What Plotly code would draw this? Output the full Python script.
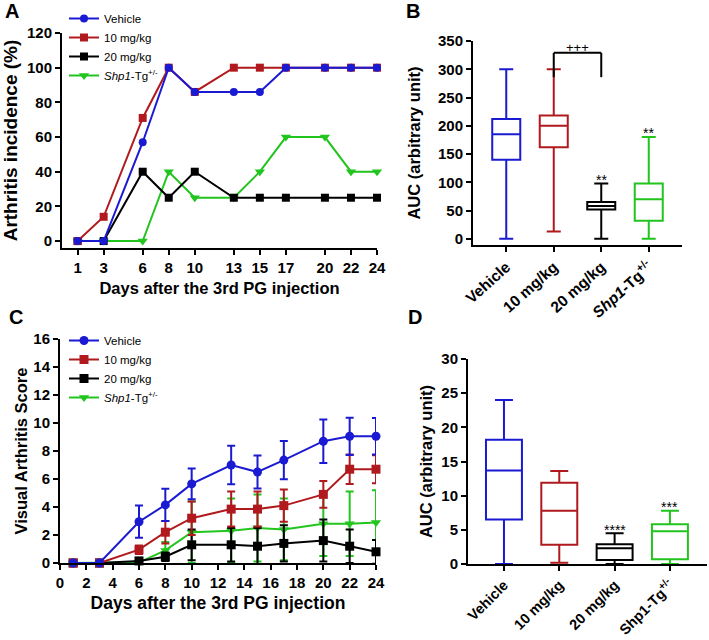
import plotly.graph_objects as go

# ── Colours ──────────────────────────
C_BLUE = "#1a1ad2"
C_RED = "#b01a1e"
C_BLACK = "#000000"
C_GREEN = "#22c41e"
FONT = "Arial, Liberation Sans, sans-serif"

# ── Data ──────────────────────────
GROUPS = ["Vehicle", "10 mg/kg", "20 mg/kg", "<i>Shp1</i>-Tg<sup>+/-</sup>"]
COLOURS = [C_BLUE, C_RED, C_BLACK, C_GREEN]
SYMBOLS = ["circle", "square", "square", "triangle-down"]

# panel A: arthritis incidence (%)
days_a = [1, 3, 6, 8, 10, 13, 15, 17, 20, 22, 24]
inc_vehicle = [0, 0, 57, 100, 86, 86, 86, 100, 100, 100, 100]
inc_10 = [0, 14, 71, 100, 86, 100, 100, 100, 100, 100, 100]
inc_20 = [0, 0, 40, 25, 40, 25, 25, 25, 25, 25, 25]
inc_shp1 = [0, 0, 0, 40, 25, 25, 40, 60, 60, 40, 40]

# panel C: visual arthritis score, mean and SEM
days_c = [1, 3, 6, 8, 10, 13, 15, 17, 20, 22, 24]
score_vehicle = [0, 0, 2.95, 4.15, 5.65, 7.0, 6.5, 7.35, 8.7, 9.05, 9.05]
sem_vehicle = [0, 0, 1.15, 1.15, 1.1, 1.37, 1.17, 1.37, 1.55, 1.33, 1.3]
score_10 = [0, 0, 0.95, 2.2, 3.2, 3.85, 3.85, 4.1, 4.9, 6.7, 6.7]
sem_10 = [0, 0, 0.3, 0.8, 1.2, 1.25, 1.25, 1.15, 0.95, 1.05, 1.0]
score_20 = [0, 0, 0.15, 0.45, 1.3, 1.3, 1.2, 1.4, 1.6, 1.2, 0.8]
sem_20 = [0, 0, 0.1, 0.3, 1.1, 1.2, 1.3, 1.3, 1.5, 1.2, 0.85]
score_shp1 = [0, 0, 0.05, 0.9, 2.2, 2.3, 2.5, 2.4, 2.8, 2.8, 2.9]
sem_shp1 = [0, 0, 0.05, 0.6, 2.2, 2.3, 2.4, 2.2, 2.3, 2.3, 2.3]

# box categories
box_cats = ["Vehicle", "10 mg/kg", "20 mg/kg", "Shp1-Tg+/-"]
box_labels_b = ["Vehicle", "10 mg/kg", "20 mg/kg", "<i>Shp1</i>-Tg<sup>+/-</sup>"]
box_labels_d = ["Vehicle", "10 mg/kg", "20 mg/kg", "Shp1-Tg<sup>+/-</sup>"]

# panel B: AUC of incidence
b_min = [0, 13, 0, 0]
b_q1 = [140, 162, 52, 32]
b_med = [185, 200, 58, 70]
b_q3 = [212, 218, 65, 98]
b_max = [300, 300, 98, 180]
b_stars = ["", "", "**", "**"]
b_star_y = [0, 0, 104, 187]
b_bracket = ("10 mg/kg", "20 mg/kg", 286, 329, "+++", 339)

# panel D: AUC of score
d_min = [0, 0.2, 0, 0]
d_q1 = [6.5, 2.8, 0.6, 0.7]
d_med = [13.7, 7.8, 2.3, 4.8]
d_q3 = [18.2, 11.9, 2.9, 5.8]
d_max = [24, 13.6, 4.5, 7.8]
d_stars = ["", "", "****", "***"]
d_star_y = [0, 0, 5.0, 8.4]

W, H = 709, 640


def px_x(a, b):
    return [a / W, b / W]


def px_y(top, bottom):
    return [1 - bottom / H, 1 - top / H]


fig = go.Figure()

# ── Panel A ──
series_a = [inc_vehicle, inc_10, inc_20, inc_shp1]
for i in [3, 2, 1, 0]:
    fig.add_trace(go.Scatter(
        x=days_a, y=series_a[i], name=GROUPS[i], mode="lines+markers",
        line=dict(color=COLOURS[i], width=2),
        marker=dict(symbol=SYMBOLS[i], size=9 if i == 3 else 8, color=COLOURS[i]),
        xaxis="x", yaxis="y", legend="legend", cliponaxis=False,
    ))

# ── Panel C ──
series_c = [(score_vehicle, sem_vehicle), (score_10, sem_10),
            (score_20, sem_20), (score_shp1, sem_shp1)]
for i in [3, 2, 1, 0]:
    m, e = series_c[i]
    fig.add_trace(go.Scatter(
        x=days_c, y=m, name=GROUPS[i], mode="lines+markers",
        line=dict(color=COLOURS[i], width=2),
        marker=dict(symbol=SYMBOLS[i], size=9, color=COLOURS[i]),
        error_y=dict(type="data", array=e, color=COLOURS[i], thickness=2, width=4),
        xaxis="x3", yaxis="y3", legend="legend2", cliponaxis=False,
    ))

# ── Panels B and D (box plots from summary stats) ──
for ax, (lo, q1, med, q3, hi), width in [
    ("2", (b_min, b_q1, b_med, b_q3, b_max), 0.59),
    ("4", (d_min, d_q1, d_med, d_q3, d_max), 0.65),
]:
    for i, cat in enumerate(box_cats):
        fig.add_trace(go.Box(
            x=[cat], q1=[q1[i]], median=[med[i]], q3=[q3[i]],
            lowerfence=[lo[i]], upperfence=[hi[i]],
            line=dict(color=COLOURS[i], width=2),
            fillcolor="rgba(0,0,0,0)", whiskerwidth=0.5, width=width,
            boxpoints=False, showlegend=False,
            xaxis="x" + ax, yaxis="y" + ax,
        ))

axis_common = dict(
    showline=True, linecolor="black", linewidth=2, mirror=False,
    ticks="outside", ticklen=5, tickwidth=2, tickcolor="black",
    showgrid=False, zeroline=False, automargin=False,
    tickfont=dict(family=FONT, size=15, color="black", weight="bold"),
)


def title(text, size):
    return dict(text=f"<b>{text}</b>", font=dict(family=FONT, size=size, color="black"))


annotations = []
for txt, x, y in [("A", 12, 11), ("B", 413, 11), ("C", 16, 317), ("D", 415, 317)]:
    annotations.append(dict(
        text=f"<b>{txt}</b>", x=x / W, y=1 - y / H, xref="paper", yref="paper",
        xanchor="center", yanchor="middle",
        showarrow=False, font=dict(family=FONT, size=20, color="black"),
    ))

for cat, s, y in zip(box_cats, b_stars, b_star_y):
    if s:
        annotations.append(dict(text=s, x=cat, y=y, xref="x2", yref="y2", showarrow=False,
                                font=dict(family=FONT, size=14, color="black")))
for cat, s, y in zip(box_cats, d_stars, d_star_y):
    if s:
        annotations.append(dict(text=s, x=cat, y=y, xref="x4", yref="y4", showarrow=False,
                                font=dict(family=FONT, size=14, color="black")))

c0, c1, y0, y1, label, ly = b_bracket
annotations.append(dict(text=label, x=1.5, y=ly, xref="x2", yref="y2", showarrow=False,
                        font=dict(family=FONT, size=13, color="black")))
shapes = [
    dict(type="line", xref="x2", yref="y2", x0=c0, x1=c0, y0=y0, y1=y1, line=dict(color="black", width=2)),
    dict(type="line", xref="x2", yref="y2", x0=c0, x1=c1, y0=y1, y1=y1, line=dict(color="black", width=2)),
    dict(type="line", xref="x2", yref="y2", x0=c1, x1=c1, y0=y0, y1=y1, line=dict(color="black", width=2)),
]

legend_common = dict(
    bgcolor="rgba(0,0,0,0)", traceorder="reversed", itemwidth=30,
    font=dict(family=FONT, size=11.5, color="black"),
    xanchor="left", yanchor="top", tracegroupgap=0,
)

fig.update_layout(
    width=W, height=H,
    margin=dict(l=0, r=0, t=0, b=0, autoexpand=False),
    paper_bgcolor="white", plot_bgcolor="white",
    font=dict(family=FONT, color="black"),
    showlegend=True,
    boxmode="overlay",
    xaxis=dict(axis_common, domain=px_x(62, 377), range=[-0.2, 24], anchor="y",
               tickvals=days_a, title=dict(title("Days after the 3rd PG injection", 16.5), standoff=7)),
    yaxis=dict(axis_common, domain=px_y(33, 248), range=[-4, 120], anchor="x",
               tickvals=[0, 20, 40, 60, 80, 100, 120],
               title=dict(title("Arthritis incidence (%)", 19), standoff=5)),
    xaxis2=dict(axis_common, domain=px_x(473, 682), range=[-0.7, 3.7], anchor="y2",
                type="category", categoryorder="array", categoryarray=box_cats,
                tickvals=box_cats, ticktext=box_labels_b, tickangle=-42,
                tickfont=dict(family=FONT, size=15.5, color="black", weight="bold")),
    yaxis2=dict(axis_common, domain=px_y(41, 245), range=[-11, 350], anchor="x2",
                tickvals=[0, 50, 100, 150, 200, 250, 300, 350],
                title=dict(title("AUC (arbitrary unit)", 16.5), standoff=13)),
    xaxis3=dict(axis_common, domain=px_x(60, 376), range=[0, 24], anchor="y3",
                dtick=2, title=dict(title("Days after the 3rd PG injection", 17.5), standoff=7)),
    yaxis3=dict(axis_common, domain=px_y(339, 563), range=[0, 16], anchor="x3",
                dtick=2, title=dict(title("Visual Arthritis Score", 16.5), standoff=2)),
    xaxis4=dict(axis_common, domain=px_x(468, 707), range=[-0.65, 3.67], anchor="y4",
                type="category", categoryorder="array", categoryarray=box_cats,
                tickvals=box_cats, ticktext=box_labels_d, tickangle=-45,
                tickfont=dict(family=FONT, size=14.5, color="black", weight="bold")),
    yaxis4=dict(axis_common, domain=px_y(359, 564), range=[0, 30], anchor="x4",
                dtick=5, title=dict(title("AUC (arbitrary unit)", 16.5), standoff=5)),
    legend=dict(legend_common, x=64 / W, y=1 - 4 / H),
    legend2=dict(legend_common, x=64 / W, y=1 - 326 / H),
    annotations=annotations,
    shapes=shapes,
)

# page body has an 8px default margin; drop it so the figure sits at the window corner
fig.write_html("out.html", config={"displayModeBar": False},
               post_script="document.body.style.margin='0px';")
